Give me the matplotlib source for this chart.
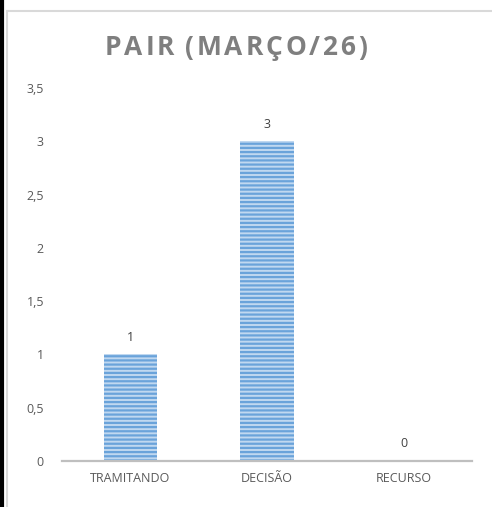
import matplotlib
matplotlib.use("Agg")
import matplotlib.pyplot as plt
from matplotlib.lines import Line2D

# --------------------------
# DATA
# --------------------------
categories = ["TRAMITANDO", "DECISÃO", "RECURSO"]
values = [1, 3, 0]
yticks = [0, 0.5, 1, 1.5, 2, 2.5, 3, 3.5]
ytick_labels = ["0", "0,5", "1", "1,5", "2", "2,5", "3", "3,5"]
title = "PAIR (MARÇO/26)"

plt.rcParams["font.family"] = ["Open Sans", "DejaVu Sans"]
plt.rcParams["hatch.linewidth"] = 1.6

W, H = 492, 507
fig = plt.figure(figsize=(W / 100, H / 100), dpi=100)
ax = fig.add_axes([0.126, 0.0907, 0.833, 0.7357])

x = list(range(len(categories)))
bars = ax.bar(x, values, width=0.39, color="#c0d8f0", edgecolor="#6aa3da",
              hatch="----", linewidth=0)
for b in bars:
    b.set_edgecolor("#6aa3da")

for xi, v in zip(x, values):
    ax.text(xi, v + 0.1, str(v), ha="center", va="bottom",
            fontsize=9, color="#404040")

ax.set_xlim(-0.5, 2.5)
ax.set_ylim(0, 3.5)
ax.set_xticks(x)
ax.set_xticklabels(categories, fontsize=9, color="#595959")
ax.set_yticks(yticks)
ax.set_yticklabels(ytick_labels, fontsize=9, color="#595959")
ax.tick_params(axis="both", length=0)
ax.tick_params(axis="x", pad=8)
ax.tick_params(axis="y", pad=13)
for s in ["top", "right", "left"]:
    ax.spines[s].set_visible(False)
ax.spines["bottom"].set_color("#bfbfbf")
ax.spines["bottom"].set_linewidth(1.6)

# --------------------------
# LETTER-SPACED TITLE
# --------------------------
renderer = fig.canvas.get_renderer()
title_kw = dict(fontsize=19, fontweight="bold", color="#7f7f7f",
                ha="left", va="baseline")
widths = []
for ch in title:
    if ch == " ":
        widths.append(5)
        continue
    t = fig.text(0, 0, ch, **title_kw)
    widths.append(t.get_window_extent(renderer).width)
    t.remove()
target_w = 262
gap = (target_w - sum(widths)) / (len(title) - 1)
xpos = 236 - target_w / 2
for ch, w in zip(title, widths):
    if ch != " ":
        fig.text(xpos / W, 1 - 55 / H, ch, **title_kw)
    xpos += w + gap

# chart frame and left edge
fig.add_artist(Line2D([0.014, 1.0], [0.979, 0.979], color="#d9d9d9", lw=1.5))
fig.add_artist(Line2D([0.015, 0.015], [0.0, 0.979], color="#d9d9d9", lw=1.5))
fig.add_artist(Line2D([0.004, 0.004], [0.0, 1.0], color="black", lw=3))

fig.savefig("out.png", dpi=100)
